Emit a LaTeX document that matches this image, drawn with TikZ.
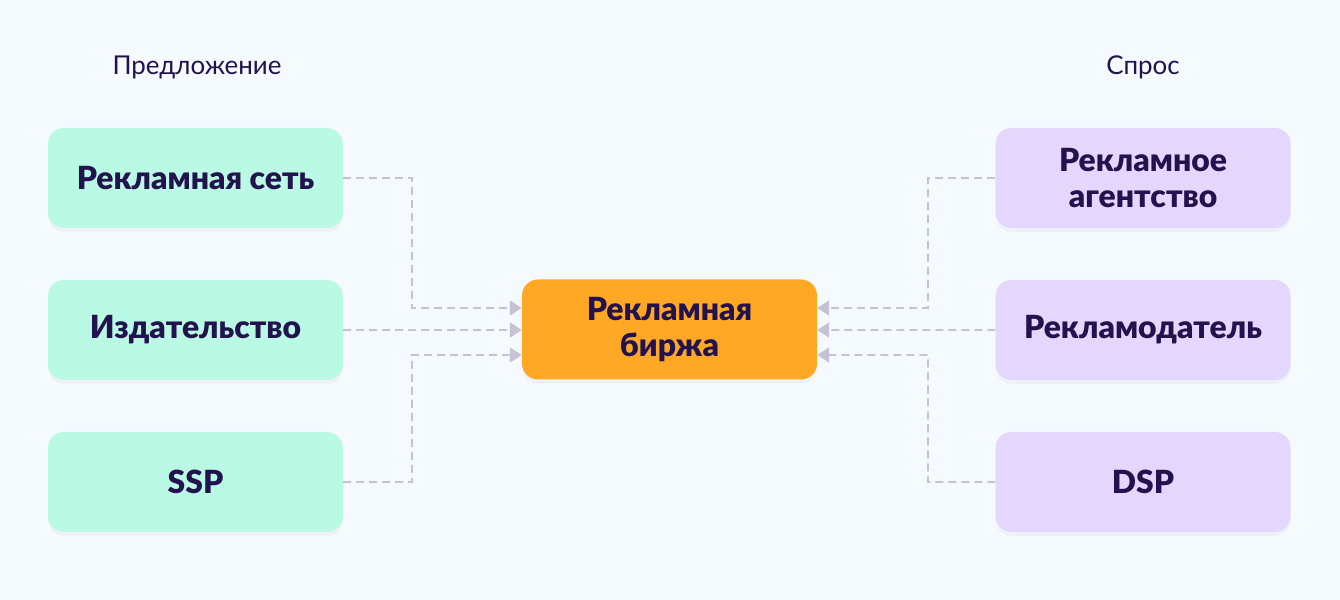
\documentclass[tikz,border=0pt]{standalone}
\usepackage{fontspec}
\setmainfont{Lato}[BoldFont={Lato Black}]
\usepackage{tikz}
\usetikzlibrary{arrows.meta,shadows}
\definecolor{bgcol}{HTML}{F4FAFE}
\definecolor{supcol}{HTML}{BAFAE5}
\definecolor{demcol}{HTML}{E4D6FD}
\definecolor{exchcol}{HTML}{FFA826}
\definecolor{inkcol}{HTML}{22124E}
\definecolor{linkcol}{HTML}{C6C2D6}
\newcommand{\boxfont}{\fontsize{32}{37}\selectfont\bfseries}
\newcommand{\headfont}{\fontsize{26}{30}\selectfont}

\begin{document}
\begin{tikzpicture}[>={Triangle[length=12bp,width=15bp]}]
      \tikzstyle{every node}=[text=inkcol, align=center]
      \tikzstyle{party}=[rounded corners=16bp, minimum width=295bp, minimum height=100bp,
        inner sep=0pt, font=\boxfont, drop shadow={opacity=0.06, shadow xshift=0bp, shadow yshift=-4bp}]
      \tikzstyle{link}=[draw=linkcol, line width=1.8bp, dash pattern=on 8bp off 5bp]
      %%
  \fill [bgcol] (0bp,0bp) rectangle (1340bp,600bp);
  \useasboundingbox (0bp,0bp) rectangle (1340bp,600bp);
  \node (supply) at (197bp,533bp) [font=\headfont] {Предложение};
  \node (demand) at (1143bp,533bp) [font=\headfont] {Спрос};
  \node (net) at (195.5bp,422bp) [party, fill=supcol] {Рекламная сеть};
  \node (pub) at (195.5bp,270bp) [party, fill=supcol] {Издательство};
  \node (ssp) at (195.5bp,118bp) [party, fill=supcol] {SSP};
  \node (exch) at (669.5bp,270.5bp) [party, fill=exchcol] {Рекламная\\биржа};
  \node (agency) at (1143bp,422bp) [party, fill=demcol] {Рекламное\\агентство};
  \node (adv) at (1143bp,270bp) [party, fill=demcol] {Рекламодатель};
  \node (dsp) at (1143bp,118bp) [party, fill=demcol] {DSP};
  \draw [link,->] (net.east) -- (412bp,422bp) -- (412bp,292bp) -- ([yshift=21.5bp]exch.west);
  \draw [link,->] (pub.east) -- ([yshift=-0.5bp]exch.west);
  \draw [link,->] (ssp.east) -- (412bp,118bp) -- (412bp,245bp) -- ([yshift=-25.5bp]exch.west);
  \draw [link,->] (agency.west) -- (928bp,422bp) -- (928bp,292bp) -- ([yshift=21.5bp]exch.east);
  \draw [link,->] (adv.west) -- ([yshift=-0.5bp]exch.east);
  \draw [link,->] (dsp.west) -- (928bp,118bp) -- (928bp,245bp) -- ([yshift=-25.5bp]exch.east);
%

    \end{tikzpicture}
\end{document}
